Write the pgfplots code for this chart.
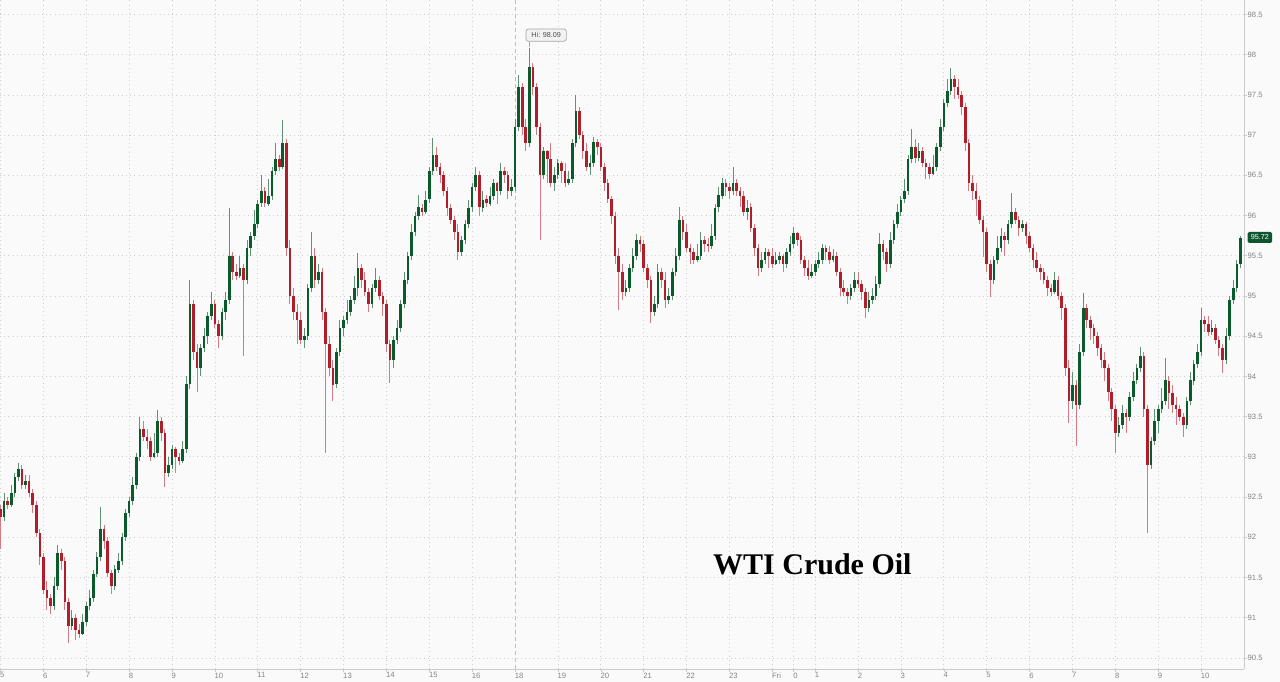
\documentclass[border=0pt]{standalone}
\usepackage{pgfplots}
\pgfplotsset{compat=1.18}
\usepackage{pgfplotstable}
\usepackage{fontspec}
\setmainfont{Liberation Sans}
\newfontfamily\titlefont{Liberation Serif}
\definecolor{bg}{HTML}{FAFAFA}
\definecolor{upbody}{HTML}{0B5A2C}
\definecolor{upwick}{HTML}{5F9273}
\definecolor{dnbody}{HTML}{B11E2B}
\definecolor{dnwick}{HTML}{D47A83}
\definecolor{gridc}{HTML}{CFCFCF}
\definecolor{axisc}{HTML}{CBCBCB}
\definecolor{tickc}{HTML}{858585}
\definecolor{tagc}{HTML}{0F5530}

\pgfplotstableread{
i o h l c
0 92.35 92.40 91.85 92.25
1 92.25 92.55 92.20 92.45
2 92.45 92.50 92.35 92.40
3 92.40 92.65 92.38 92.55
4 92.55 92.80 92.50 92.75
5 92.75 92.92 92.70 92.85
6 92.85 92.90 92.60 92.65
7 92.65 92.78 92.60 92.70
8 92.70 92.78 92.50 92.55
9 92.55 92.60 92.30 92.40
10 92.40 92.45 92.00 92.05
11 92.05 92.10 91.65 91.75
12 91.75 91.80 91.30 91.35
13 91.35 91.45 91.10 91.25
14 91.25 91.30 91.05 91.15
15 91.15 91.50 91.10 91.40
16 91.40 91.90 91.35 91.80
17 91.80 91.85 91.60 91.70
18 91.70 91.75 91.10 91.20
19 91.20 91.25 90.69 90.90
20 90.90 91.10 90.85 91.00
21 91.00 91.05 90.72 90.85
22 90.85 90.92 90.75 90.80
23 90.80 91.05 90.78 90.95
24 90.95 91.20 90.90 91.15
25 91.15 91.35 91.10 91.25
26 91.25 91.60 91.20 91.55
27 91.55 91.82 91.50 91.75
28 91.75 92.38 91.70 92.10
29 92.10 92.15 91.85 91.95
30 91.95 92.00 91.50 91.55
31 91.55 91.60 91.30 91.40
32 91.40 91.65 91.35 91.60
33 91.60 91.80 91.55 91.70
34 91.70 92.05 91.65 92.00
35 92.00 92.35 91.95 92.30
36 92.30 92.50 92.25 92.45
37 92.45 92.75 92.40 92.65
38 92.65 93.05 92.60 93.00
39 93.00 93.50 92.95 93.35
40 93.35 93.45 93.20 93.25
41 93.25 93.35 93.10 93.20
42 93.20 93.25 92.95 93.00
43 93.00 93.30 92.98 93.05
44 93.05 93.58 93.00 93.45
45 93.45 93.50 93.20 93.30
46 93.30 93.35 92.63 92.80
47 92.80 93.00 92.75 92.90
48 92.90 93.15 92.85 93.10
49 93.10 93.12 92.80 93.00
50 93.00 93.05 92.90 92.95
51 92.95 93.20 92.92 93.10
52 93.10 94.00 93.05 93.90
53 93.90 95.20 93.85 94.90
54 94.90 94.95 94.20 94.30
55 94.30 94.40 93.80 94.10
56 94.10 94.40 94.00 94.35
57 94.35 94.60 94.30 94.50
58 94.50 94.80 94.40 94.75
59 94.75 95.05 94.70 94.90
60 94.90 94.95 94.60 94.65
61 94.65 94.70 94.35 94.50
62 94.50 94.85 94.45 94.80
63 94.80 95.05 94.70 94.95
64 94.95 96.10 94.90 95.50
65 95.50 95.55 95.20 95.30
66 95.30 95.40 95.20 95.25
67 95.25 95.50 95.22 95.35
68 95.35 95.40 94.25 95.20
69 95.20 95.70 95.15 95.60
70 95.60 95.80 95.50 95.75
71 95.75 96.07 95.70 95.90
72 95.90 96.20 95.85 96.15
73 96.15 96.50 96.10 96.30
74 96.30 96.35 96.10 96.15
75 96.15 96.45 96.12 96.25
76 96.25 96.60 96.20 96.55
77 96.55 96.90 96.50 96.70
78 96.70 96.75 96.55 96.60
79 96.60 97.19 96.58 96.90
80 96.90 96.95 95.50 95.60
81 95.60 95.70 94.90 95.00
82 95.00 95.10 94.70 94.80
83 94.80 94.90 94.40 94.70
84 94.70 94.80 94.40 94.45
85 94.45 94.60 94.35 94.50
86 94.50 95.15 94.45 95.10
87 95.10 95.79 95.05 95.50
88 95.50 95.60 95.10 95.20
89 95.20 95.40 95.15 95.30
90 95.30 95.35 94.70 94.80
91 94.80 94.85 93.05 94.40
92 94.40 94.50 94.00 94.10
93 94.10 94.20 93.70 93.90
94 93.90 94.35 93.85 94.30
95 94.30 94.70 94.25 94.60
96 94.60 94.75 94.50 94.70
97 94.70 94.95 94.65 94.80
98 94.80 95.00 94.75 94.95
99 94.95 95.25 94.90 95.10
100 95.10 95.54 95.00 95.35
101 95.35 95.40 95.10 95.20
102 95.20 95.30 95.00 95.05
103 95.05 95.10 94.80 94.90
104 94.90 95.15 94.85 95.10
105 95.10 95.35 95.05 95.20
106 95.20 95.25 94.95 95.00
107 95.00 95.05 94.75 94.90
108 94.90 94.95 94.30 94.40
109 94.40 94.45 93.92 94.20
110 94.20 94.50 94.10 94.45
111 94.45 94.70 94.40 94.60
112 94.60 94.95 94.55 94.90
113 94.90 95.30 94.85 95.20
114 95.20 95.55 95.15 95.50
115 95.50 95.90 95.45 95.80
116 95.80 96.05 95.75 96.00
117 96.00 96.25 95.95 96.10
118 96.10 96.15 96.00 96.05
119 96.05 96.30 96.02 96.20
120 96.20 96.60 96.15 96.55
121 96.55 96.97 96.50 96.75
122 96.75 96.85 96.55 96.60
123 96.60 96.65 96.40 96.50
124 96.50 96.55 96.25 96.30
125 96.30 96.35 96.00 96.10
126 96.10 96.15 95.90 95.95
127 95.95 96.00 95.70 95.80
128 95.80 95.90 95.45 95.55
129 95.55 95.75 95.50 95.70
130 95.70 95.95 95.65 95.90
131 95.90 96.20 95.85 96.10
132 96.10 96.40 96.05 96.35
133 96.35 96.60 96.30 96.50
134 96.50 96.55 96.00 96.10
135 96.10 96.30 96.05 96.20
136 96.20 96.25 96.10 96.15
137 96.15 96.35 96.12 96.25
138 96.25 96.45 96.20 96.40
139 96.40 96.42 96.15 96.30
140 96.30 96.65 96.25 96.55
141 96.55 96.60 96.40 96.50
142 96.50 96.55 96.20 96.30
143 96.30 96.45 96.25 96.35
144 96.35 97.20 96.30 97.10
145 97.10 97.75 97.05 97.60
146 97.60 97.65 97.00 97.10
147 97.10 97.20 96.80 96.90
148 96.90 98.09 96.85 97.85
149 97.85 97.90 97.50 97.60
150 97.60 97.65 97.00 97.10
151 97.10 97.15 95.70 96.50
152 96.50 96.85 96.45 96.80
153 96.80 96.82 96.40 96.70
154 96.70 96.90 96.35 96.40
155 96.40 96.60 96.30 96.50
156 96.50 96.70 96.45 96.65
157 96.65 96.68 96.40 96.55
158 96.55 96.65 96.35 96.40
159 96.40 96.55 96.38 96.45
160 96.45 96.95 96.40 96.90
161 96.90 97.50 96.85 97.30
162 97.30 97.35 96.95 97.00
163 97.00 97.05 96.70 96.80
164 96.80 96.90 96.55 96.60
165 96.60 96.75 96.50 96.65
166 96.65 96.98 96.60 96.92
167 96.92 96.95 96.75 96.85
168 96.85 96.90 96.55 96.60
169 96.60 96.65 96.30 96.40
170 96.40 96.45 96.15 96.20
171 96.20 96.25 95.90 96.00
172 96.00 96.05 95.40 95.50
173 95.50 95.60 94.83 95.30
174 95.30 95.40 94.95 95.05
175 95.05 95.20 95.00 95.10
176 95.10 95.40 95.05 95.35
177 95.35 95.60 95.30 95.50
178 95.50 95.77 95.45 95.70
179 95.70 95.75 95.55 95.65
180 95.65 95.70 95.30 95.35
181 95.35 95.40 95.10 95.20
182 95.20 95.25 94.67 94.80
183 94.80 95.00 94.75 94.90
184 94.90 95.40 94.85 95.30
185 95.30 95.35 95.10 95.20
186 95.20 95.30 94.85 94.95
187 94.95 95.10 94.90 95.00
188 95.00 95.35 94.95 95.30
189 95.30 95.60 95.25 95.50
190 95.50 96.10 95.45 95.95
191 95.95 96.00 95.70 95.80
192 95.80 95.90 95.55 95.60
193 95.60 95.65 95.40 95.55
194 95.55 95.60 95.40 95.45
195 95.45 95.65 95.42 95.50
196 95.50 95.80 95.45 95.70
197 95.70 95.75 95.55 95.65
198 95.65 95.72 95.55 95.62
199 95.62 95.90 95.58 95.75
200 95.75 96.15 95.70 96.10
201 96.10 96.35 96.05 96.25
202 96.25 96.47 96.20 96.40
203 96.40 96.45 96.25 96.35
204 96.35 96.40 96.20 96.30
205 96.30 96.60 96.25 96.40
206 96.40 96.45 96.25 96.30
207 96.30 96.35 96.10 96.25
208 96.25 96.30 96.00 96.05
209 96.05 96.20 95.95 96.10
210 96.10 96.15 95.80 95.85
211 95.85 95.90 95.50 95.60
212 95.60 95.65 95.25 95.35
213 95.35 95.55 95.30 95.45
214 95.45 95.60 95.40 95.55
215 95.55 95.58 95.35 95.50
216 95.50 95.60 95.35 95.40
217 95.40 95.55 95.38 95.45
218 95.45 95.55 95.40 95.50
219 95.50 95.52 95.30 95.40
220 95.40 95.60 95.35 95.55
221 95.55 95.75 95.50 95.65
222 95.65 95.86 95.60 95.78
223 95.78 95.80 95.62 95.70
224 95.70 95.75 95.40 95.45
225 95.45 95.50 95.25 95.35
226 95.35 95.45 95.20 95.25
227 95.25 95.40 95.22 95.30
228 95.30 95.45 95.25 95.40
229 95.40 95.55 95.35 95.45
230 95.45 95.65 95.40 95.60
231 95.60 95.63 95.45 95.55
232 95.55 95.62 95.40 95.45
233 95.45 95.58 95.42 95.50
234 95.50 95.55 95.25 95.30
235 95.30 95.35 95.00 95.10
236 95.10 95.20 95.00 95.05
237 95.05 95.10 94.90 95.00
238 95.00 95.15 94.95 95.10
239 95.10 95.30 95.05 95.20
240 95.20 95.30 95.10 95.15
241 95.15 95.20 94.95 95.05
242 95.05 95.10 94.73 94.85
243 94.85 95.05 94.80 94.95
244 94.95 95.10 94.90 95.00
245 95.00 95.25 94.95 95.15
246 95.15 95.79 95.10 95.65
247 95.65 95.70 95.45 95.55
248 95.55 95.60 95.30 95.40
249 95.40 95.80 95.35 95.70
250 95.70 95.95 95.65 95.90
251 95.90 96.15 95.85 96.05
252 96.05 96.25 96.00 96.20
253 96.20 96.45 96.15 96.30
254 96.30 96.75 96.25 96.70
255 96.70 97.07 96.65 96.85
256 96.85 96.95 96.65 96.72
257 96.72 96.90 96.68 96.80
258 96.80 96.85 96.60 96.65
259 96.65 96.70 96.45 96.60
260 96.60 96.65 96.45 96.52
261 96.52 96.75 96.50 96.60
262 96.60 96.90 96.55 96.85
263 96.85 97.20 96.80 97.10
264 97.10 97.45 97.05 97.40
265 97.40 97.70 97.35 97.55
266 97.55 97.84 97.50 97.70
267 97.70 97.75 97.45 97.60
268 97.60 97.70 97.45 97.50
269 97.50 97.55 97.25 97.35
270 97.35 97.40 96.80 96.90
271 96.90 96.95 96.30 96.40
272 96.40 96.50 96.20 96.30
273 96.30 96.40 96.00 96.20
274 96.20 96.25 95.90 95.95
275 95.95 96.00 95.49 95.80
276 95.80 95.85 95.30 95.40
277 95.40 95.45 94.99 95.20
278 95.20 95.50 95.15 95.45
279 95.45 95.75 95.40 95.60
280 95.60 95.85 95.55 95.75
281 95.75 95.80 95.50 95.70
282 95.70 95.95 95.65 95.90
283 95.90 96.28 95.85 96.05
284 96.05 96.10 95.90 95.95
285 95.95 96.00 95.75 95.85
286 95.85 95.95 95.80 95.90
287 95.90 95.92 95.65 95.75
288 95.75 95.80 95.55 95.60
289 95.60 95.65 95.35 95.45
290 95.45 95.55 95.30 95.35
291 95.35 95.40 95.20 95.30
292 95.30 95.35 95.15 95.20
293 95.20 95.25 95.00 95.10
294 95.10 95.15 95.00 95.05
295 95.05 95.30 95.02 95.20
296 95.20 95.25 94.95 95.00
297 95.00 95.05 94.70 94.85
298 94.85 94.90 94.00 94.10
299 94.10 94.20 93.42 93.70
300 93.70 94.05 93.60 93.90
301 93.90 93.95 93.13 93.65
302 93.65 94.40 93.60 94.30
303 94.30 95.04 94.25 94.85
304 94.85 94.90 94.60 94.70
305 94.70 94.75 94.45 94.60
306 94.60 94.65 94.40 94.50
307 94.50 94.55 94.25 94.35
308 94.35 94.40 94.10 94.20
309 94.20 94.30 93.95 94.10
310 94.10 94.15 93.70 93.80
311 93.80 93.85 93.45 93.60
312 93.60 93.65 93.05 93.30
313 93.30 93.50 93.25 93.40
314 93.40 93.65 93.35 93.55
315 93.55 93.60 93.30 93.50
316 93.50 93.80 93.45 93.75
317 93.75 94.05 93.70 93.95
318 93.95 94.15 93.90 94.10
319 94.10 94.37 94.05 94.25
320 94.25 94.30 93.50 93.60
321 93.60 93.65 92.06 92.90
322 92.90 93.25 92.85 93.20
323 93.20 93.60 93.15 93.45
324 93.45 93.65 93.30 93.60
325 93.60 93.85 93.55 93.70
326 93.70 94.23 93.65 93.95
327 93.95 94.00 93.60 93.80
328 93.80 93.90 93.55 93.65
329 93.65 93.75 93.40 93.60
330 93.60 93.65 93.45 93.50
331 93.50 93.55 93.25 93.40
332 93.40 93.75 93.35 93.70
333 93.70 94.05 93.65 93.95
334 93.95 94.20 93.90 94.15
335 94.15 94.40 94.10 94.30
336 94.30 94.85 94.25 94.70
337 94.70 94.75 94.55 94.65
338 94.65 94.75 94.50 94.55
339 94.55 94.70 94.52 94.60
340 94.60 94.65 94.40 94.45
341 94.45 94.50 94.25 94.35
342 94.35 94.40 94.04 94.20
343 94.20 94.60 94.15 94.50
344 94.50 95.00 94.45 94.95
345 94.95 95.20 94.90 95.10
346 95.10 95.45 95.05 95.40
347 95.40 95.75 95.35 95.72
}\wti

\begin{document}
\begin{tikzpicture}
\fill[bg] (0,0) rectangle (1280bp,682bp);
\path[use as bounding box] (0,0) rectangle (1280bp,682bp);
\begin{axis}[
  at={(0bp,13bp)}, anchor=south west,
  scale only axis, width=1244bp, height=669bp,
  xmin=-0.012, xmax=29, ymin=90.362, ymax=98.68,
  axis x line*=bottom, axis y line*=right,
  axis line style={draw=axisc, line width=0.8bp},
  tick align=outside, major tick length=3bp,
  tick style={draw=axisc, line width=0.6bp},
  xtick={0,1,2,3,4,5,6,7,8,9,10,11,13,14,15,16,17,18,18.5,19,20,21,22,23,24,25,26,27,28},
  xticklabels={5,6,7,8,9,10,11,12,13,14,15,16,19,20,21,22,23,Fri,0,1,2,3,4,5,6,7,8,9,10},
  extra x ticks={12}, extra x tick labels={18},
  extra x tick style={grid=major, major grid style={draw=black!25, line width=0.8bp, dash pattern=on 4bp off 3bp}},
  ytick={90.5,91,91.5,92,92.5,93,93.5,94,94.5,95,95.5,96,96.5,97,97.5,98,98.5},
  grid=major,
  major grid style={draw=gridc, line width=0.7bp, dash pattern=on 0.8bp off 3.4bp},
  /pgf/number format/assume math mode=true,
  xticklabel style={anchor=north west, font=\fontsize{7.7bp}{9bp}\selectfont, text=tickc, inner sep=0.5bp, xshift=-1bp},
  yticklabel style={anchor=west, font=\fontsize{7.7bp}{9bp}\selectfont, text=tickc, inner sep=0.5bp},
  clip=true,
]
% wicks
\addplot[draw=none, mark=none, forget plot,
  restrict expr to domain={\thisrow{c}-\thisrow{o}}{0:20},
  error bars/.cd, y dir=both, y explicit, error mark=none,
  error bar style={draw=upwick, line width=1bp}]
  table[x expr=\thisrow{i}/12, y expr=(\thisrow{h}+\thisrow{l})/2, y error expr=(\thisrow{h}-\thisrow{l})/2] {\wti};
\addplot[draw=none, mark=none, forget plot,
  restrict expr to domain={\thisrow{c}-\thisrow{o}}{-20:-0.0001},
  error bars/.cd, y dir=both, y explicit, error mark=none,
  error bar style={draw=dnwick, line width=1bp}]
  table[x expr=\thisrow{i}/12, y expr=(\thisrow{h}+\thisrow{l})/2, y error expr=(\thisrow{h}-\thisrow{l})/2] {\wti};
% bodies
\addplot[draw=none, mark=none, forget plot,
  restrict expr to domain={\thisrow{c}-\thisrow{o}}{0:20},
  error bars/.cd, y dir=both, y explicit, error mark=none,
  error bar style={draw=upbody, line width=2.6bp}]
  table[x expr=\thisrow{i}/12, y expr=(\thisrow{o}+\thisrow{c})/2, y error expr=abs(\thisrow{c}-\thisrow{o})/2] {\wti};
\addplot[draw=none, mark=none, forget plot,
  restrict expr to domain={\thisrow{c}-\thisrow{o}}{-20:-0.0001},
  error bars/.cd, y dir=both, y explicit, error mark=none,
  error bar style={draw=dnbody, line width=2.6bp}]
  table[x expr=\thisrow{i}/12, y expr=(\thisrow{o}+\thisrow{c})/2, y error expr=abs(\thisrow{c}-\thisrow{o})/2] {\wti};
\end{axis}
% Hi callout
\draw[draw=black!35, line width=0.8bp] (529.5bp,640.3bp) -- (529.5bp,635bp);
\node[draw=black!35, fill=black!5, rounded corners=2.5bp, line width=0.7bp,
  anchor=south west, minimum width=40.3bp, minimum height=12.4bp, inner sep=0pt,
  font=\fontsize{7.2bp}{8bp}\selectfont, text=black!70] at (525.7bp,640.3bp) {Hi: 98.09};
% last price tag
\node[fill=tagc, rounded corners=1.5bp, anchor=west, minimum width=24.5bp, minimum height=11bp,
  inner sep=0pt, font=\fontsize{7.2bp}{8bp}\selectfont, text=white] at (1247.5bp,444.5bp) {95.72};
% title
\node[anchor=base west, inner sep=0pt, text=black,
  font=\titlefont\bfseries\fontsize{30bp}{32bp}\selectfont] at (713bp,107bp) {WTI Crude Oil};
\end{tikzpicture}
\end{document}
